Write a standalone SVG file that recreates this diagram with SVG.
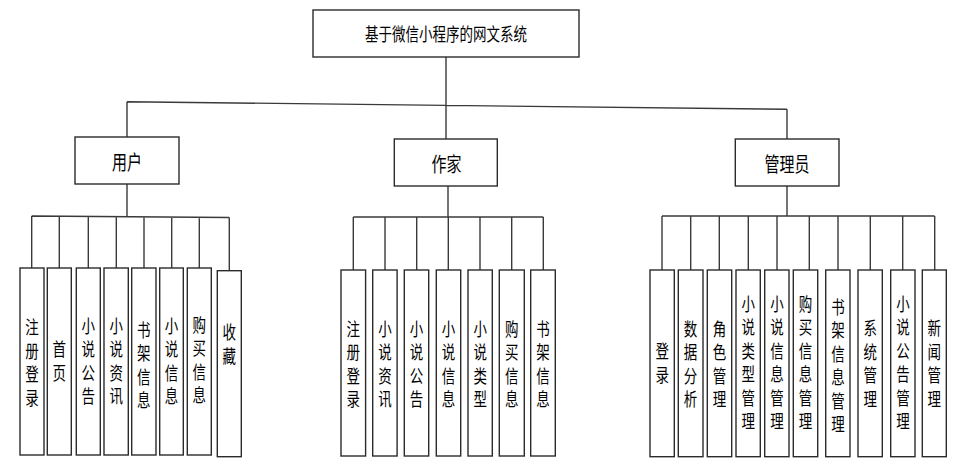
<svg xmlns="http://www.w3.org/2000/svg" width="973" height="464" viewBox="0 0 973 464">
<style>
.box{fill:#fff;stroke:#2b2b2b;stroke-width:1.4}
.ln{fill:none;stroke:#3a3a3a;stroke-width:1.4}
text{font-family:"Noto Sans CJK SC","Liberation Sans",sans-serif;fill:#000;text-anchor:middle;dominant-baseline:central}
.t{font-size:18px}
.m{font-size:20px}
.v{font-size:18px}
</style>
<rect width="973" height="464" fill="#fff"/>
<g id="connectors">
<path class="ln" d="M446,57V139M127,101.7L787,109.3M127,101.7V137M787,109.3V139"/>
<path class="ln" d="M127,184V216.5M31.7,216L229.3,217.5M31.7,216V268M59.3,216.2V268M88.3,216.4V268M116.3,216.6V268M144,216.8V268M171.7,217V268M199.3,217.2V268M229.3,217.5V270.7"/>
<path class="ln" d="M448,186V217M353.3,217H543.3M353.3,217V270M385,217V270M416.7,217V270M448.3,217V270M480,217V270M511.7,217V270M543.3,217V270"/>
<path class="ln" d="M787,186V216M662,216H934.7M662,216V270M690.7,216V270M719.3,216V270M748.3,216V270M777,216V270M809.3,216V270M838,216V270M870.3,216V270M902.7,216V270M934.7,216V270"/>
</g>
<g id="root"><rect class="box" x="313" y="10" width="266" height="47"/><text class="t" transform="translate(446,33.5) scale(0.75,1)">基于微信小程序的网文系统</text></g>
<g id="user"><rect class="box" x="75" y="137" width="104" height="47"/><text class="m" transform="translate(127,161.5) scale(0.75,1)">用户</text></g>
<g id="author"><rect class="box" x="394.3" y="139" width="103" height="47"/><text class="m" transform="translate(446.5,163.3) scale(0.75,1)">作家</text></g>
<g id="admin"><rect class="box" x="735.3" y="139" width="103.7" height="47"/><text class="m" transform="translate(787,163.3) scale(0.75,1)">管理员</text></g>

<g id="u1"><rect class="box" x="20" y="268" width="24" height="187"/><text class="v" transform="translate(32,0) scale(0.75,1)"><tspan x="0" y="326">注</tspan><tspan x="0" y="349.6">册</tspan><tspan x="0" y="373.2">登</tspan><tspan x="0" y="396.8">录</tspan></text></g>
<g id="u2"><rect class="box" x="47.3" y="268" width="24" height="187"/><text class="v" transform="translate(59.3,0) scale(0.75,1)"><tspan x="0" y="348.2">首</tspan><tspan x="0" y="371.8">页</tspan></text></g>
<g id="u3"><rect class="box" x="76.3" y="268" width="24" height="187"/><text class="v" transform="translate(88.3,0) scale(0.75,1)"><tspan x="0" y="324.6">小</tspan><tspan x="0" y="348.2">说</tspan><tspan x="0" y="371.8">公</tspan><tspan x="0" y="395.4">告</tspan></text></g>
<g id="u4"><rect class="box" x="104" y="268" width="24.3" height="187"/><text class="v" transform="translate(116.2,0) scale(0.75,1)"><tspan x="0" y="324.6">小</tspan><tspan x="0" y="348.2">说</tspan><tspan x="0" y="371.8">资</tspan><tspan x="0" y="395.4">讯</tspan></text></g>
<g id="u5"><rect class="box" x="131.7" y="268" width="24.3" height="187"/><text class="v" transform="translate(143.8,0) scale(0.75,1)"><tspan x="0" y="328.6">书</tspan><tspan x="0" y="352.2">架</tspan><tspan x="0" y="375.8">信</tspan><tspan x="0" y="399.4">息</tspan></text></g>
<g id="u6"><rect class="box" x="159.7" y="268" width="23.6" height="187"/><text class="v" transform="translate(171.5,0) scale(0.75,1)"><tspan x="0" y="324.6">小</tspan><tspan x="0" y="348.2">说</tspan><tspan x="0" y="371.8">信</tspan><tspan x="0" y="395.4">息</tspan></text></g>
<g id="u7"><rect class="box" x="187.3" y="268" width="24" height="187"/><text class="v" transform="translate(199.3,0) scale(0.75,1)"><tspan x="0" y="323.6">购</tspan><tspan x="0" y="347.2">买</tspan><tspan x="0" y="370.8">信</tspan><tspan x="0" y="394.4">息</tspan></text></g>
<g id="u8"><rect class="box" x="217.3" y="270.7" width="24" height="186"/><text class="v" transform="translate(229.3,0) scale(0.75,1)"><tspan x="0" y="331.2">收</tspan><tspan x="0" y="354.8">藏</tspan></text></g>

<g id="a1"><rect class="box" x="341" y="270" width="24.6" height="186"/><text class="v" transform="translate(353.3,0) scale(0.75,1)"><tspan x="0" y="327.6">注</tspan><tspan x="0" y="351.2">册</tspan><tspan x="0" y="374.8">登</tspan><tspan x="0" y="398.4">录</tspan></text></g>
<g id="a2"><rect class="box" x="372.7" y="270" width="24.4" height="186"/><text class="v" transform="translate(385,0) scale(0.75,1)"><tspan x="0" y="327.6">小</tspan><tspan x="0" y="351.2">说</tspan><tspan x="0" y="374.8">资</tspan><tspan x="0" y="398.4">讯</tspan></text></g>
<g id="a3"><rect class="box" x="404.3" y="270" width="24.4" height="186"/><text class="v" transform="translate(416.5,0) scale(0.75,1)"><tspan x="0" y="327.6">小</tspan><tspan x="0" y="351.2">说</tspan><tspan x="0" y="374.8">公</tspan><tspan x="0" y="398.4">告</tspan></text></g>
<g id="a4"><rect class="box" x="436.3" y="270" width="24.4" height="186"/><text class="v" transform="translate(448.5,0) scale(0.75,1)"><tspan x="0" y="327.6">小</tspan><tspan x="0" y="351.2">说</tspan><tspan x="0" y="374.8">信</tspan><tspan x="0" y="398.4">息</tspan></text></g>
<g id="a5"><rect class="box" x="468" y="270" width="24.3" height="186"/><text class="v" transform="translate(480.2,0) scale(0.75,1)"><tspan x="0" y="327.6">小</tspan><tspan x="0" y="351.2">说</tspan><tspan x="0" y="374.8">类</tspan><tspan x="0" y="398.4">型</tspan></text></g>
<g id="a6"><rect class="box" x="499.3" y="270" width="25" height="186"/><text class="v" transform="translate(511.8,0) scale(0.75,1)"><tspan x="0" y="327.6">购</tspan><tspan x="0" y="351.2">买</tspan><tspan x="0" y="374.8">信</tspan><tspan x="0" y="398.4">息</tspan></text></g>
<g id="a7"><rect class="box" x="530.7" y="270" width="24.6" height="186"/><text class="v" transform="translate(543,0) scale(0.75,1)"><tspan x="0" y="327.6">书</tspan><tspan x="0" y="351.2">架</tspan><tspan x="0" y="374.8">信</tspan><tspan x="0" y="398.4">息</tspan></text></g>

<g id="m1"><rect class="box" x="650" y="270" width="24.3" height="186.7"/><text class="v" transform="translate(662.2,0) scale(0.75,1)"><tspan x="0" y="350">登</tspan><tspan x="0" y="373.6">录</tspan></text></g>
<g id="m2"><rect class="box" x="678.3" y="270" width="24.7" height="186.7"/><text class="v" transform="translate(690.6,0) scale(0.75,1)"><tspan x="0" y="327.6">数</tspan><tspan x="0" y="351.2">据</tspan><tspan x="0" y="374.8">分</tspan><tspan x="0" y="398.4">析</tspan></text></g>
<g id="m3"><rect class="box" x="707.3" y="270" width="24.4" height="186.7"/><text class="v" transform="translate(719.5,0) scale(0.75,1)"><tspan x="0" y="327.6">角</tspan><tspan x="0" y="351.2">色</tspan><tspan x="0" y="374.8">管</tspan><tspan x="0" y="398.4">理</tspan></text></g>
<g id="m4"><rect class="box" x="736" y="270" width="24.3" height="186.7"/><text class="v" transform="translate(748.2,0) scale(0.75,1)"><tspan x="0" y="303">小</tspan><tspan x="0" y="326.5">说</tspan><tspan x="0" y="350">类</tspan><tspan x="0" y="373.5">型</tspan><tspan x="0" y="397">管</tspan><tspan x="0" y="420.5">理</tspan></text></g>
<g id="m5"><rect class="box" x="764.7" y="270" width="24.3" height="186.7"/><text class="v" transform="translate(776.9,0) scale(0.75,1)"><tspan x="0" y="303">小</tspan><tspan x="0" y="326.5">说</tspan><tspan x="0" y="350">信</tspan><tspan x="0" y="373.5">息</tspan><tspan x="0" y="397">管</tspan><tspan x="0" y="420.5">理</tspan></text></g>
<g id="m6"><rect class="box" x="793.3" y="270" width="24.4" height="186.7"/><text class="v" transform="translate(805.5,0) scale(0.75,1)"><tspan x="0" y="303">购</tspan><tspan x="0" y="326.5">买</tspan><tspan x="0" y="350">信</tspan><tspan x="0" y="373.5">息</tspan><tspan x="0" y="397">管</tspan><tspan x="0" y="420.5">理</tspan></text></g>
<g id="m7"><rect class="box" x="825.7" y="270" width="24.3" height="186.7"/><text class="v" transform="translate(837.9,0) scale(0.75,1)"><tspan x="0" y="306">书</tspan><tspan x="0" y="329.5">架</tspan><tspan x="0" y="353">信</tspan><tspan x="0" y="376.5">息</tspan><tspan x="0" y="400">管</tspan><tspan x="0" y="423.5">理</tspan></text></g>
<g id="m8"><rect class="box" x="858" y="270" width="24.3" height="186.7"/><text class="v" transform="translate(870.2,0) scale(0.75,1)"><tspan x="0" y="327">系</tspan><tspan x="0" y="350.6">统</tspan><tspan x="0" y="374.2">管</tspan><tspan x="0" y="397.8">理</tspan></text></g>
<g id="m9"><rect class="box" x="890.7" y="270" width="24.3" height="186.7"/><text class="v" transform="translate(902.9,0) scale(0.75,1)"><tspan x="0" y="303">小</tspan><tspan x="0" y="326.5">说</tspan><tspan x="0" y="350">公</tspan><tspan x="0" y="373.5">告</tspan><tspan x="0" y="397">管</tspan><tspan x="0" y="420.5">理</tspan></text></g>
<g id="m10"><rect class="box" x="922.3" y="270" width="24" height="186.7"/><text class="v" transform="translate(934.3,0) scale(0.75,1)"><tspan x="0" y="327">新</tspan><tspan x="0" y="350.6">闻</tspan><tspan x="0" y="374.2">管</tspan><tspan x="0" y="397.8">理</tspan></text></g>
</svg>
